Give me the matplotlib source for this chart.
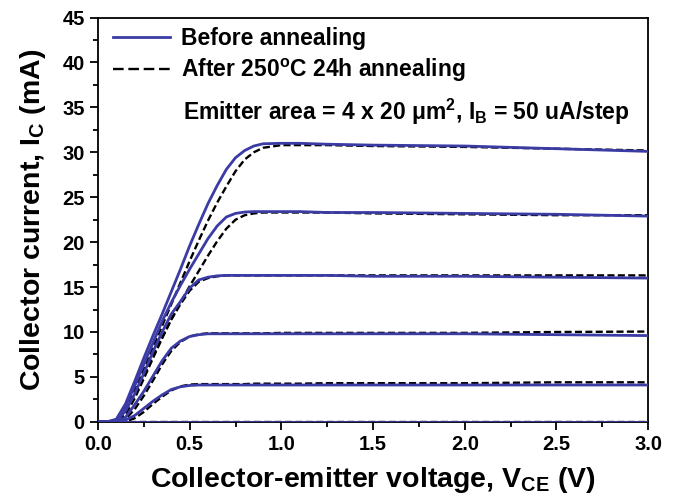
import numpy as np
import matplotlib
matplotlib.use("Agg")
import matplotlib.pyplot as plt
from matplotlib.ticker import MultipleLocator, FormatStrFormatter
from matplotlib.lines import Line2D

# collector-emitter voltage grid (V), shared by all curves
vce = [0.0, 0.05, 0.1, 0.15, 0.2, 0.25, 0.3, 0.35, 0.4, 0.45, 0.5, 0.55, 0.6,
       0.65, 0.7, 0.75, 0.8, 0.85, 0.9, 1.0, 1.1, 1.25, 1.5, 2.0, 2.5, 3.0]

# before annealing, IB = 0..250 uA in 50 uA steps (mA)
before_0 = [0.0] * 26
before_1 = [0, 0, 0, 0.2, 0.7, 1.5, 2.3, 3.0, 3.6, 3.9, 4.05, 4.1, 4.1,
            4.1, 4.1, 4.1, 4.1, 4.1, 4.1, 4.1, 4.1, 4.1, 4.1, 4.1, 4.1, 4.1]
before_2 = [0, 0, 0.05, 0.5, 1.9, 3.4, 5.1, 6.8, 8.2, 9.0, 9.5, 9.7, 9.8,
            9.8, 9.8, 9.8, 9.8, 9.8, 9.8, 9.8, 9.8, 9.8, 9.8, 9.8, 9.7, 9.6]
before_3 = [0, 0, 0.1, 1.2, 3.1, 5.4, 7.8, 10.0, 12.0, 13.4, 14.9, 15.8, 16.1,
            16.25, 16.3, 16.3, 16.3, 16.3, 16.3, 16.3, 16.3, 16.3, 16.2, 16.2, 16.1, 16.0]
before_4 = [0, 0, 0.2, 1.7, 4.0, 6.4, 8.8, 11.2, 13.3, 15.2, 17.0, 18.7, 20.4,
            21.8, 22.8, 23.2, 23.35, 23.4, 23.4, 23.4, 23.4, 23.3, 23.3, 23.2, 23.1, 22.9]
before_5 = [0, 0, 0.3, 2.0, 4.5, 7.1, 9.6, 12.0, 14.5, 17.0, 19.6, 22.0, 24.3,
            26.3, 28.1, 29.4, 30.2, 30.7, 30.95, 31.0, 31.0, 30.9, 30.8, 30.7, 30.4, 30.1]

# after 250C 24h annealing
after_0 = [0.0] * 26
after_1 = [0, 0, 0, 0.05, 0.4, 1.1, 2.0, 2.8, 3.5, 3.95, 4.15, 4.2, 4.2,
           4.2, 4.2, 4.2, 4.2, 4.25, 4.25, 4.25, 4.25, 4.3, 4.3, 4.3, 4.4, 4.4]
after_2 = [0, 0, 0, 0.3, 1.4, 2.9, 4.6, 6.4, 7.9, 8.9, 9.5, 9.75, 9.85,
           9.85, 9.85, 9.85, 9.85, 9.85, 9.85, 9.9, 9.9, 9.9, 9.9, 9.9, 10.0, 10.05]
after_3 = [0, 0, 0, 0.8, 2.6, 4.8, 7.1, 9.3, 11.4, 13.1, 14.6, 15.6, 16.0,
           16.2, 16.3, 16.3, 16.3, 16.3, 16.3, 16.3, 16.3, 16.3, 16.3, 16.3, 16.3, 16.3]
after_4 = [0, 0, 0.05, 1.0, 2.9, 5.1, 7.3, 9.4, 11.4, 13.3, 15.1, 16.8, 18.5,
           20.1, 21.5, 22.5, 23.0, 23.2, 23.3, 23.3, 23.3, 23.3, 23.2, 23.1, 23.0, 23.0]
after_5 = [0, 0, 0.1, 1.3, 3.5, 5.9, 8.3, 10.7, 13.1, 15.5, 17.9, 20.2, 22.4,
           24.4, 26.2, 27.9, 29.2, 30.0, 30.5, 30.8, 30.8, 30.8, 30.7, 30.6, 30.4, 30.2]

before = [before_0, before_1, before_2, before_3, before_4, before_5]
after = [after_0, after_1, after_2, after_3, after_4, after_5]

plt.rcParams['font.family'] = ['Liberation Sans', 'DejaVu Sans']
plt.rcParams['font.weight'] = 'bold'
plt.rcParams['axes.labelweight'] = 'bold'
plt.rcParams['mathtext.fontset'] = 'custom'
plt.rcParams['mathtext.rm'] = 'Liberation Sans:bold'
plt.rcParams['mathtext.bf'] = 'Liberation Sans:bold'
plt.rcParams['mathtext.it'] = 'Liberation Sans:bold'
plt.rcParams['mathtext.default'] = 'bf'

blue = '#3b3ba5'

fig = plt.figure(figsize=(6.78, 5.01), dpi=100)
ax = fig.add_axes([0.1445, 0.158, 0.8115, 0.807])

for ic in after:
    ax.plot(vce, ic, color='black', lw=1.7, dashes=(3.0, 1.4), zorder=2)
for ic in before:
    ax.plot(vce, ic, color=blue, lw=2.0, zorder=3, solid_joinstyle='round')

ax.set_xlim(0, 3.0)
ax.set_ylim(0, 45)
ax.xaxis.set_major_locator(MultipleLocator(0.5))
ax.xaxis.set_minor_locator(MultipleLocator(0.25))
ax.yaxis.set_major_locator(MultipleLocator(5))
ax.yaxis.set_minor_locator(MultipleLocator(2.5))
ax.xaxis.set_major_formatter(FormatStrFormatter('%.1f'))
ax.tick_params(which='major', direction='out', length=6, width=1.3,
               labelsize=14.5, top=False, right=False)
ax.tick_params(which='minor', direction='out', length=3.5, width=1.3,
               top=False, right=False)
for lab in ax.get_xticklabels() + ax.get_yticklabels():
    lab.set_fontweight('bold')
for s in ax.spines.values():
    s.set_linewidth(1.3)

ax.set_xlabel('Collector-emitter voltage, V$_{CE}$ (V)', fontsize=20.5, labelpad=8)
ax.set_ylabel('Collector current, I$_{C}$ (mA)', fontsize=20.5, labelpad=10)

handles = [Line2D([], [], color=blue, lw=2.0),
           Line2D([], [], color='black', lw=1.7, dashes=(4.5, 2.0))]
labels = ['Before annealing', 'After 250$^{o}$C 24h annealing']
ax.legend(handles, labels, loc='upper left', bbox_to_anchor=(0.0105, 1.0),
          borderaxespad=0, borderpad=0.4, frameon=False, fontsize=16.5,
          handlelength=2.5, handletextpad=0.48, labelspacing=0.3)

ax.text(0.1545, 0.747, 'Emitter area = 4 x 20 \u03bcm$^{2}$, I$_{B}$ = 50 uA/step',
        transform=ax.transAxes, fontsize=16.5, va='baseline', ha='left')

fig.savefig('out.png', dpi=100)
